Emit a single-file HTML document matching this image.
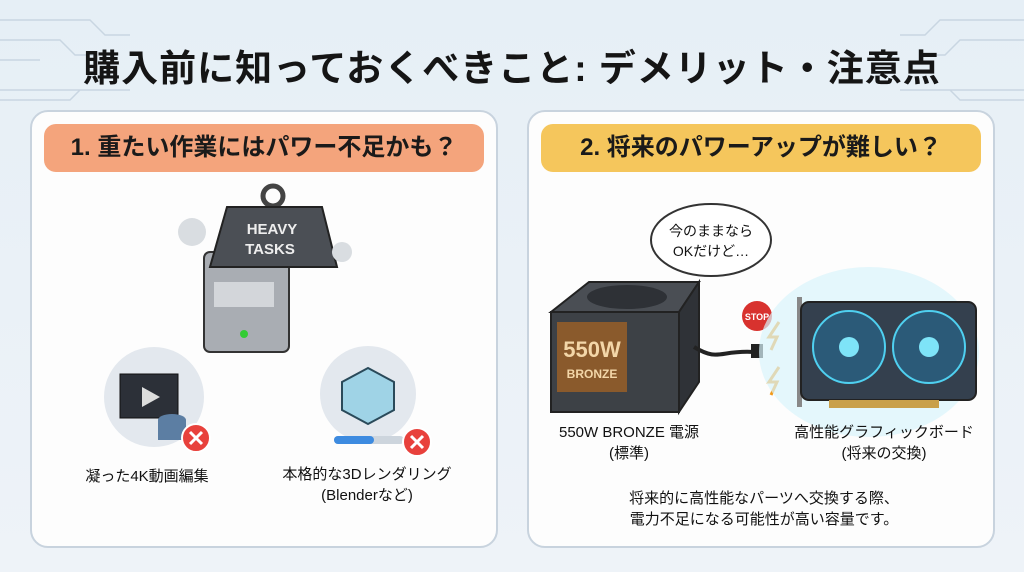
<!DOCTYPE html>
<html><head><meta charset="utf-8"><style>
body{margin:0;width:1024px;height:572px;overflow:hidden;background:linear-gradient(180deg,#e6eff6,#eef3f8);font-family:"Liberation Sans","Noto Sans CJK JP",sans-serif;position:relative}
.t{position:absolute;left:0;width:1024px;top:38px;text-align:center;font-size:37px;font-weight:bold;color:#151515;letter-spacing:1px}
.p{position:absolute;top:110px;width:468px;height:438px;background:#fdfdfd;border:2px solid #c8d3de;border-radius:18px;box-sizing:border-box}
.h{position:absolute;left:12px;right:12px;top:12px;height:48px;border-radius:12px;font-size:24px;font-weight:bold;text-align:center;line-height:48px;color:#1a1a1a}
.l{position:absolute;font-size:15px;text-align:center;color:#111;line-height:21px}
</style></head><body>
<svg width="1024" height="572" style="position:absolute;left:0;top:0" fill="none" stroke="#c9d6e2" stroke-width="1.5">
<path d="M0 20H90L105 35H130M0 40H60L75 55H95M0 60H40M0 90H100M0 100H70L80 90H130"/>
<path d="M1024 20H940L925 35H900M1024 40H960L945 55H925M1024 90H930M1024 100H960L950 90H900"/>
</svg>
<div class="t">購入前に知っておくべきこと: デメリット・注意点</div>

<div class="p" style="left:30px">
<div class="h" style="background:#f4a47c">1. 重たい作業にはパワー不足かも？</div>
<svg width="468" height="438" style="position:absolute;left:0;top:0">
<rect x="172" y="140" width="85" height="100" rx="6" fill="#a9adb3" stroke="#333" stroke-width="2"/>
<rect x="182" y="170" width="60" height="25" fill="#d3d6da"/>
<circle cx="212" cy="222" r="4" fill="#3c3"/>
<circle cx="241" cy="84" r="10" fill="none" stroke="#444" stroke-width="5"/>
<path d="M195 95H290L305 155H178Z" fill="#4b4f55" stroke="#222" stroke-width="2"/>
<text x="240" y="122" font-size="15" font-weight="bold" fill="#eee" text-anchor="middle" font-family="Liberation Sans">HEAVY</text>
<text x="238" y="142" font-size="15" font-weight="bold" fill="#eee" text-anchor="middle" font-family="Liberation Sans">TASKS</text>
<circle cx="160" cy="120" r="14" fill="#d9dde1"/><circle cx="310" cy="140" r="10" fill="#d9dde1"/>
<circle cx="122" cy="285" r="50" fill="#e3e8ee"/>
<rect x="88" y="262" width="58" height="44" fill="#2c3038" stroke="#111"/>
<path d="M110 275L128 285L110 295Z" fill="#ddd"/>
<ellipse cx="140" cy="308" rx="14" ry="6" fill="#5c7ea3"/><rect x="126" y="308" width="28" height="20" fill="#5c7ea3"/>
<circle cx="164" cy="326" r="14" fill="#e8413c" stroke="#fff" stroke-width="2"/>
<path d="M158 320L170 332M170 320L158 332" stroke="#fff" stroke-width="3"/>
<circle cx="336" cy="282" r="48" fill="#e3e8ee"/>
<path d="M336 256L362 270V298L336 312L310 298V270Z" fill="#9fd3e6" stroke="#2a4a5a" stroke-width="2"/>
<rect x="302" y="324" width="70" height="8" rx="4" fill="#cdd5dd"/><rect x="302" y="324" width="40" height="8" rx="4" fill="#3d8be0"/>
<circle cx="385" cy="330" r="14" fill="#e8413c" stroke="#fff" stroke-width="2"/>
<path d="M379 324L391 336M391 324L379 336" stroke="#fff" stroke-width="3"/>
</svg>
<div class="l" style="left:30px;top:354px;width:170px">凝った4K動画編集</div>
<div class="l" style="left:230px;top:352px;width:210px">本格的な3Dレンダリング<br>(Blenderなど)</div>
</div>

<div class="p" style="left:527px">
<div class="h" style="background:#f5c65c">2. 将来のパワーアップが難しい？</div>
<svg width="468" height="438" style="position:absolute;left:0;top:0">
<ellipse cx="182" cy="128" rx="60" ry="36" fill="#fff" stroke="#333" stroke-width="2"/>
<circle cx="163" cy="176" r="5" fill="#fff" stroke="#333"/><circle cx="152" cy="188" r="3" fill="#fff" stroke="#333"/>
<text x="182" y="124" font-size="14" text-anchor="middle" fill="#111">今のままなら</text>
<text x="182" y="144" font-size="14" text-anchor="middle" fill="#111">OKだけど…</text>
<path d="M22 200L60 170H170L150 200Z" fill="#4a4e54" stroke="#222" stroke-width="2"/>
<ellipse cx="98" cy="185" rx="40" ry="12" fill="#2e3136"/>
<rect x="22" y="200" width="128" height="100" fill="#3d4146" stroke="#222" stroke-width="2"/>
<path d="M150 200L170 170V270L150 300Z" fill="#2f3237" stroke="#222" stroke-width="2"/>
<rect x="28" y="210" width="70" height="70" fill="#8a5a2c"/>
<text x="63" y="245" font-size="22" font-weight="bold" fill="#f3d6a8" text-anchor="middle" font-family="Liberation Sans">550W</text>
<text x="63" y="266" font-size="12" font-weight="bold" fill="#f3d6a8" text-anchor="middle" font-family="Liberation Sans">BRONZE</text>
<path d="M165 235C190 250 190 238 225 240" stroke="#222" stroke-width="4" fill="none"/>
<rect x="222" y="232" width="12" height="14" fill="#222"/>
<circle cx="228" cy="204" r="15" fill="#d8322e"/>
<text x="228" y="208" font-size="9" font-weight="bold" fill="#fff" text-anchor="middle">STOP</text>
<path d="M250 210L240 225H248L242 238" stroke="#f29a1a" stroke-width="3" fill="none"/>
<path d="M250 255L240 270H248L242 283" stroke="#f29a1a" stroke-width="3" fill="none"/>
<ellipse cx="340" cy="240" rx="110" ry="85" fill="#d9f3fb" opacity=".7"/>
<rect x="268" y="185" width="5" height="110" fill="#888"/>
<rect x="272" y="190" width="175" height="98" rx="8" fill="#34404e" stroke="#222" stroke-width="2"/>
<circle cx="320" cy="235" r="36" fill="#2b5a78" stroke="#4fd0f0" stroke-width="2"/>
<circle cx="320" cy="235" r="10" fill="#7ee4f8"/>
<circle cx="400" cy="235" r="36" fill="#2b5a78" stroke="#4fd0f0" stroke-width="2"/>
<circle cx="400" cy="235" r="10" fill="#7ee4f8"/>
<rect x="300" y="288" width="110" height="8" fill="#c9a04a"/>
</svg>
<div class="l" style="left:10px;top:310px;width:180px">550W BRONZE 電源<br>(標準)</div>
<div class="l" style="left:250px;top:310px;width:210px">高性能グラフィックボード<br>(将来の交換)</div>
<div class="l" style="left:30px;top:376px;width:410px">将来的に高性能なパーツへ交換する際、<br>電力不足になる可能性が高い容量です。</div>
</div>
</body></html>
